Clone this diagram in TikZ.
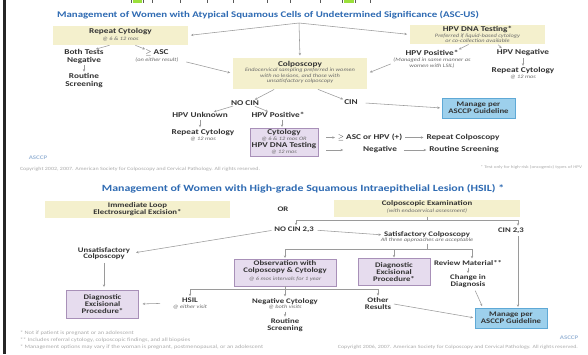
\documentclass[tikz,border=0pt]{standalone}
\usepackage{fontspec}
\setmainfont{Carlito}
\newfontfamily\cf[FakeStretch=1.25]{Carlito}
\usetikzlibrary{arrows.meta}
\definecolor{ttl}{HTML}{2F6BB3}
\definecolor{yel}{HTML}{F4F0CD}
\definecolor{purf}{HTML}{E6DCEE}
\definecolor{purd}{HTML}{A890B8}
\definecolor{bluf}{HTML}{9DD0EC}
\definecolor{blud}{HTML}{5FA9D6}
\definecolor{txt}{HTML}{333333}
\definecolor{sub}{HTML}{6A6A6A}
\definecolor{lin}{HTML}{9A9A9A}
\definecolor{fnc}{HTML}{ABABAB}
\definecolor{logo}{HTML}{9DB8D8}
\definecolor{grnmk}{HTML}{9BE03A}
\newcommand\ftl{\cf\fontsize{8.7}{9}\selectfont\bfseries}
\newcommand\ftll{\cf\fontsize{9.5}{10}\selectfont\bfseries}
\newcommand\fb{\cf\fontsize{7.4}{7.3}\selectfont\bfseries}
\newcommand\fbs{\cf\fontsize{7}{6.8}\selectfont\bfseries}
\newcommand\fti{\cf\fontsize{5.1}{5.4}\selectfont\itshape}
\newcommand\ffn{\cf\fontsize{5.1}{5.5}\selectfont}
\newcommand\fcp{\cf\fontsize{4.8}{5}\selectfont}
\tikzset{
  every node/.style={inner sep=0pt, outer sep=0pt, align=center, text=txt},
  ttlt/.style={font=\ftl, text=ttl},
  bl/.style={font=\fb},
  bls/.style={font=\fbs},
  sm/.style={font=\fti, text=sub},
  fnote/.style={font=\ffn, text=fnc, anchor=west},
  cpy/.style={font=\fcp, text=fnc},
  logot/.style={font=\cf\fontsize{5.5}{5.5}\selectfont\bfseries, text=logo},
  ybox/.style={fill=yel},
  pbox/.style={fill=purf, draw=purd, line width=0.5pt},
  bbox/.style={fill=bluf, draw=blud, line width=0.5pt},
  arr/.style={draw=lin, line width=0.55pt, -{Stealth[length=2.6pt,width=2.4pt]}},
  ln/.style={draw=lin, line width=0.55pt},
}
\begin{document}
\begin{tikzpicture}[x=1pt,y=-1pt]
\useasboundingbox[fill=white] (0,0) rectangle (588,354);
\fill[black!85] (3.3,0) rectangle (6,354);
% top strip marks
\fill[grnmk] (133,0) rectangle (142,2.5);
\fill[grnmk] (344,0) rectangle (354,2.5);
\foreach \t in {131.5,143.5,152,180,207,233,267,290,320,342.5,355.5,370}
  \draw[black!65, line width=0.6pt] (\t,0) -- (\t,2.6);

% ===== TOP SECTION =====
\node[ttlt] (title1) at (268,15) {Management of Women with Atypical Squamous Cells of Undetermined Significance (ASC-US)};
\coordinate (hub) at (299,23);

\node[ybox, minimum width=135pt, minimum height=19pt] (rc) at (120.5,35.5) {};
\node[bl] (rct) at (120.5,32) {Repeat Cytology};
\node[sm] (rcs) at (120.5,39) {@ 6 \& 12 mos};

\node[ybox, minimum width=135pt, minimum height=19pt] (hpv) at (477.5,34.5) {};
\node[bl] (hpvt) at (477.5,29.5) {HPV DNA Testing*};
\node[sm] (hpvs) at (477.5,38.2) {Preferred if liquid-based cytology\\or co-collection available};

\node[ybox, minimum width=134pt, minimum height=31pt] (colp) at (300,73.5) {};
\node[bl] (colpt) at (300,64.5) {Colposcopy};
\node[sm] (colps) at (300,76) {Endocervical sampling preferred in women\\with no lesions, and those with\\unsatisfactory colposcopy};

\node[bl] (both) at (84,56.5) {Both Tests\\Negative};
\node[bl] (rout1) at (84,80.5) {Routine\\Screening};
\node[bl] (gasc) at (157,53) {$\geq$ ASC};
\node[sm] (gascs) at (157,60) {(on either result)};
\node[bl] (hpvp) at (432,53) {HPV Positive*};
\node[sm] (hpvps) at (432,62.8) {(Managed in same manner as\\women with LSIL)};
\node[bl] (hpvn) at (523,53) {HPV Negative};
\node[bl] (rc2) at (523,71) {Repeat Cytology};
\node[sm] (rc2s) at (523,77) {@ 12 mos};

\draw[arr, shorten >=3pt] (hub) -- (rc.east);
\draw[arr, shorten >=3pt] (hub) -- (hpv.west);
\draw[arr, shorten >=2.5pt] (hub) -- (colp.north);
\draw[arr, shorten <=1pt, shorten >=2pt] ([xshift=-10pt]rc.south) -- ([xshift=10pt]both.north);
\draw[arr, shorten <=1pt, shorten >=2pt] ([xshift=14pt]rc.south) -- ([xshift=-10pt]gasc.north);
\draw[arr, shorten <=2pt, shorten >=2pt] (both.south) -- (rout1.north);
\draw[arr, shorten <=8pt, shorten >=3pt] (gascs.east) -- (colp.west);
\draw[arr, shorten <=1pt, shorten >=2pt] ([xshift=-8pt]hpv.south) -- ([xshift=25pt]hpvp.north);
\draw[arr, shorten <=1pt, shorten >=2pt] ([xshift=20pt]hpv.south) -- ([xshift=-20pt]hpvn.north);
\draw[arr, shorten <=2pt, shorten >=2pt] (hpvn.south) -- (rc2.north);
\draw[arr, shorten <=3pt, shorten >=3pt] (hpvps.west) -- (colp.east);

% middle
\node[bl] (nocin) at (245,103) {NO CIN};
\node[bl] (cin) at (351,102.5) {CIN};
\node[bl] (hpvu) at (200,115) {HPV Unknown};
\node[bl] (hpvp2) at (278,115) {HPV Positive*};
\node[bl] (rc3) at (203,132.5) {Repeat Cytology};
\node[sm] (rc3s) at (203,139) {@ 12 mos};
\node[pbox, minimum width=68pt, minimum height=28pt] (cyt) at (284,142) {};
\node[bl] (cytt) at (284,133) {Cytology};
\node[sm] (cyts) at (284,139.5) {@ 6 \& 12 mos OR};
\node[bl] (cytt2) at (284,146) {HPV DNA Testing};
\node[sm] (cyts2) at (284,152.5) {@ 12 mos};
\node[bbox, minimum width=73pt, minimum height=20pt, font=\fbs] (man1) at (478.5,108) {Manage per\\ASCCP Guideline};
\node[bl] (asc2) at (370,137.5) {$\geq$ ASC or HPV (+)};
\node[bl] (rcol) at (463,137.5) {Repeat Colposcopy};
\node[bl] (negt) at (380,150) {Negative};
\node[bl] (rsc) at (464,150) {Routine Screening};

\draw[arr, shorten <=1pt, shorten >=2pt] ([xshift=-25pt]colp.south) -- ([xshift=8pt]nocin.north);
\draw[arr, shorten <=1pt, shorten >=2pt] ([xshift=17pt]colp.south) -- ([xshift=-6pt]cin.north);
\draw[arr, shorten <=2pt, shorten >=2pt] ([xshift=-10pt]nocin.south) -- ([xshift=12pt]hpvu.north);
\draw[arr, shorten <=2pt, shorten >=2pt] ([xshift=8pt]nocin.south) -- ([xshift=-8pt]hpvp2.north);
\draw[arr, shorten <=2pt, shorten >=2pt] (hpvu.south) -- (hpvu.south |- rc3.north);
\draw[arr, shorten <=2pt, shorten >=1pt] ([xshift=4pt]hpvp2.south) -- ([xshift=4pt]hpvp2.south |- cyt.north);
\draw[arr, shorten <=8pt, shorten >=2pt] (cin.east) -- (man1.west);
\draw[arr, shorten <=8pt, shorten >=3pt] (cyt.east |- asc2.west) -- (asc2.west);
\draw[arr, shorten <=3pt, shorten >=3pt] (asc2.east) -- (rcol.west);
\draw[arr, shorten <=8pt, shorten >=20pt] (cyt.east |- negt.west) -- (negt.west);
\draw[arr, shorten <=7pt, shorten >=3pt] (negt.east) -- (rsc.west);

\node[cpy, anchor=east, font=\cf\fontsize{4.1}{4.5}\selectfont] (fnt1) at (582,167) {* Test only for high-risk (oncogenic) types of HPV};
\node[logot] (logo1) at (38,158) {ASCCP};
\node[cpy, anchor=west] (cp1) at (20,169) {Copyright 2002, 2007. American Society for Colposcopy and Cervical Pathology. All rights reserved.};

% ===== BOTTOM SECTION =====
\node[ttlt, font=\ftll] (title2) at (303,189) {Management of Women with High-grade Squamous Intraepithelial Lesion (HSIL) *};
\node[ybox, minimum width=185pt, minimum height=17pt, font=\fbs] (ilee) at (137.5,209) {Immediate Loop\\Electrosurgical Excision*};
\node[bls] (or) at (283,209) {OR};
\node[ybox, minimum width=186pt, minimum height=17pt] (cex) at (427,208) {};
\node[bls] (cext) at (427,204) {Colposcopic Examination};
\node[sm] (cexs) at (427,210.5) {(with endocervical assessment)};
\coordinate (bA) at (296,220);
\coordinate (bB) at (518,220);
\node[bls] (nocin2) at (294,230) {NO CIN 2,3};
\node[bls] (cin2) at (511,230.5) {CIN 2,3};
\node[bls] (sat) at (427,235) {Satisfactory Colposcopy};
\node[sm] (sats) at (427,240.5) {All three approaches are acceptable};
\node[bls] (unsat) at (104,253.5) {Unsatisfactory\\Colposcopy};
\node[pbox, minimum width=72pt, minimum height=28pt, font=\fbs] (diag1) at (102.5,304) {Diagnostic\\Excisional\\Procedure*};
\coordinate (cA) at (285,249);
\coordinate (cB) at (472,249);
\node[pbox, minimum width=102pt, minimum height=27pt] (obs) at (285,272.5) {};
\node[bls] (obst) at (285,267.5) {Observation with\\Colposcopy \& Cytology};
\node[sm] (obss) at (285,279.5) {@ 6 mos intervals for 1 year};
\node[pbox, minimum width=72pt, minimum height=27pt, font=\fbs] (diag2) at (394,272) {Diagnostic\\Excisional\\Procedure*};
\node[bls] (rev) at (468,263) {Review Material**};
\node[bls] (chg) at (468,281.5) {Change in\\Diagnosis};
\node[bbox, minimum width=72pt, minimum height=20pt, font=\fbs] (man2) at (511,318) {Manage per\\ASCCP Guideline};
\coordinate (dA) at (190,289);
\coordinate (dB) at (378,289);
\node[bls] (hsil) at (190,300.5) {HSIL};
\node[sm] (hsils) at (190,307) {@ either visit};
\node[bls] (negc) at (285,301.5) {Negative Cytology};
\node[sm] (negcs) at (285,307.5) {@ both visits};
\node[bls] (rs2) at (285,325) {Routine\\Screening};
\node[bls] (oth) at (378,303.5) {Other\\Results};

\draw[ln] (cex.south) -- (cex.south |- bA);
\draw[ln] (bA) -- (bB);
\draw[arr, shorten >=2pt] (bA) -- (bA |- nocin2.north);
\draw[arr, shorten >=2pt] (bB) -- (bB |- cin2.north);
\draw[arr, shorten <=4pt, shorten >=3pt] (nocin2.east) -- (sat.west);
\draw[arr, shorten <=3pt, shorten >=6pt] (nocin2.west) -- (unsat.east);
\draw[arr, shorten <=3pt, shorten >=3pt] (unsat.south) -- (unsat.south |- diag1.north);
\draw[ln, shorten <=1pt] (sats.south) -- (sats.south |- cA);
\draw[ln] (cA) -- (cB);
\draw[arr, shorten >=1pt] (cA) -- (obs.north);
\draw[arr, shorten >=1pt] (cA -| diag2.north) -- (diag2.north);
\draw[arr, shorten >=2pt] (cB) -- (cB |- rev.north);
\draw[arr, shorten <=2pt, shorten >=2pt] (rev.south) -- (rev.south |- chg.north);
\draw[arr, shorten <=3pt, shorten >=2pt] ([xshift=6pt]chg.south) -- ([xshift=-28pt]man2.north);
\draw[arr, shorten <=3pt, shorten >=1pt] (bB |- cin2.south) -- (bB |- man2.north);
\draw[ln] (obs.south) -- (obs.south |- dA);
\draw[ln] (dA) -- (dB);
\draw[arr, shorten >=2pt] (dA) -- (hsil.north);
\draw[arr, shorten >=2pt] (dA -| negc.north) -- (negc.north);
\draw[arr, shorten >=2pt] (dB) -- (oth.north);
\draw[arr, shorten <=2pt, shorten >=2pt] (negcs.south) -- (negcs.south |- rs2.north);
\draw[arr, shorten <=22pt, shorten >=4pt] (hsil.south west) -- (diag1.east);
\draw[arr, shorten <=3pt, shorten >=2pt] (oth.east) -- (man2.west);

\node[fnote] (fn1) at (20,333) {* Not if patient is pregnant or an adolescent};
\node[fnote] (fn2) at (20,340) {** Includes referral cytology, colposcopic findings, and all biopsies};
\node[fnote] (fn3) at (20,347) {* Management options may vary if the woman is pregnant, postmenopausal, or an adolescent};
\node[logot] (logo2) at (569,338) {ASCCP};
\node[cpy, anchor=east] (cp2) at (578,347) {Copyright 2006, 2007. American Society for Colposcopy and Cervical Pathology. All rights reserved.};
\end{tikzpicture}
\end{document}
